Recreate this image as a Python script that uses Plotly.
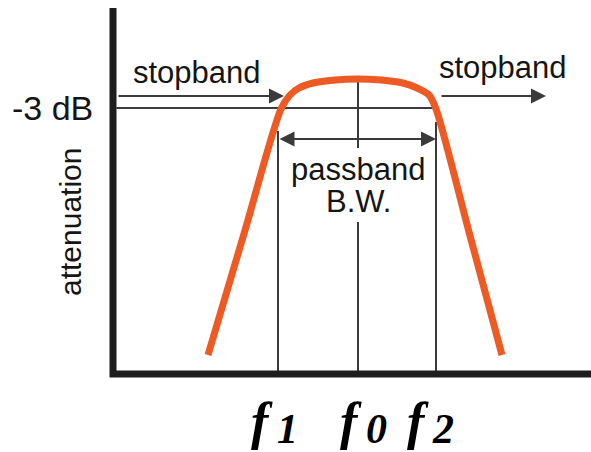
import plotly.graph_objects as go

# Coordinate system: frequency (x) and relative level (y), origin at the axes corner
# Filter response curve (orange)
curve_freq = [95, 131.5, 168, 177, 186, 200, 222, 245, 268, 290, 304, 316, 323, 356, 389]
curve_level = [19, 142, 265, 279, 286, 291, 294, 295, 294, 291, 286, 279, 265, 142, 19]

# Key frequencies
f1, f0, f2 = 165, 245, 323
# Levels
level_3db = 266
level_stop_arrow = 278
level_bw_arrow = 235
peak_level = 295
f1_top = 243
f2_top = 252
f0_gap = [152, 226]

# Axis extents
x_axis_end = 478
y_axis_top = 366

ORANGE = "#EE5A24"
DARK = "#3a3a3a"
AXIS = "#1e1e1e"
TXT = "#151515"
SANS = "Liberation Sans"
SERIF = "Liberation Serif"

fig = go.Figure()

# Thin reference lines
ref_x = [3.5, f2, None, f1, f1, None, f2, f2, None, f0, f0, None, f0, f0]
ref_y = [level_3db, level_3db, None, f1_top, 0, None, f2_top, 0, None,
         peak_level, f0_gap[1], None, f0_gap[0], 0]
fig.add_trace(go.Scatter(x=ref_x, y=ref_y, mode="lines",
                         line=dict(color=DARK, width=2), hoverinfo="skip"))

# Response curve
fig.add_trace(go.Scatter(x=curve_freq, y=curve_level, mode="lines",
                         line=dict(color=ORANGE, width=7, shape="spline", smoothing=0.8),
                         hoverinfo="skip"))

# Axes (thick L)
fig.add_trace(go.Scatter(x=[0, 0, x_axis_end], y=[y_axis_top, 0, 0], mode="lines",
                         line=dict(color=AXIS, width=7), hoverinfo="skip"))

ann = []
# Arrows
arrow_common = dict(xref="x", yref="y", axref="x", ayref="y", text="", showarrow=True,
                    arrowhead=2, arrowsize=1.5, arrowwidth=2, arrowcolor=DARK,
                    standoff=0, startstandoff=0)
ann.append(dict(x=171, y=level_stop_arrow, ax=4, ay=level_stop_arrow, **arrow_common))
ann.append(dict(x=433, y=level_stop_arrow, ax=327, ay=level_stop_arrow, **arrow_common))
ann.append(dict(x=f2, y=level_bw_arrow, ax=f1, ay=level_bw_arrow,
                arrowside="end+start", **arrow_common))

# Texts
def txt(x, y, s, size, **kw):
    d = dict(x=x, y=y, xref="x", yref="y", text=s, showarrow=False,
             xanchor="center", yanchor="middle",
             font=dict(family=SANS, size=size, color=TXT))
    d.update(kw)
    return d

ann.append(txt(84, 302, "stopband", 31))
ann.append(txt(390, 307, "stopband", 31))
ann.append(txt(-18, 266, "-3 dB", 34, xanchor="right"))
ann.append(txt(-43, 152, "attenuation", 30, textangle=-90))
ann.append(txt(f0, 205, "passband", 31))
ann.append(txt(f0, 173, "B.W.", 31))

labels_f = [("1", f1 - 16), ("0", f0 - 7), ("2", f2 - 18)]
for digit, xc in labels_f:
    ann.append(dict(x=xc, y=-47, xref="x", yref="y", text="f", showarrow=False,
                    xanchor="center", yanchor="middle",
                    font=dict(family=SERIF, size=52, color="#000", weight="bold", style="italic")))
    ann.append(dict(x=xc + 25, y=-55, xref="x", yref="y", text=digit, showarrow=False,
                    xanchor="center", yanchor="middle",
                    font=dict(family=SERIF, size=42, color="#000", weight="bold", style="italic")))

fig.update_layout(
    width=591, height=452, margin=dict(l=0, r=0, t=0, b=0),
    paper_bgcolor="white", plot_bgcolor="white", showlegend=False,
    xaxis=dict(range=[-113, 478], visible=False, fixedrange=True),
    yaxis=dict(range=[-78, 374], visible=False, fixedrange=True),
    annotations=ann,
)

fig.write_html("out.html", config={"displayModeBar": False},
               post_script="document.body.style.margin='0';document.body.style.padding='0';")
